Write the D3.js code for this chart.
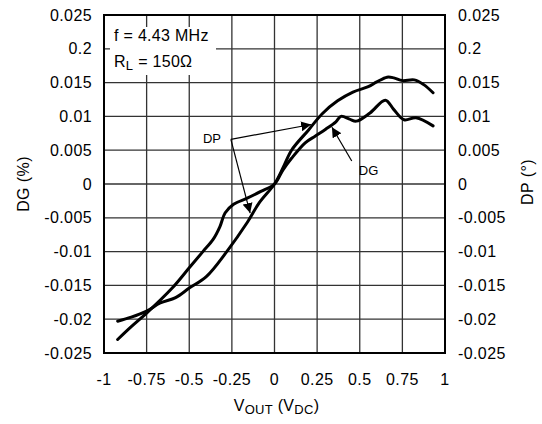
<!DOCTYPE html>
<html>
<head>
<meta charset="utf-8">
<script src="https://cdn.jsdelivr.net/npm/d3@7"></script>
<style>
  body { margin: 0; background: #fff; }
  text { font-family: "Liberation Sans", Arial, sans-serif; fill: #000; }
</style>
</head>
<body>
<svg id="chart" width="542" height="424"></svg>
<script>
// x ticks (V_OUT) and y ticks, labels as printed on the original
const xTicks = [-1, -0.75, -0.5, -0.25, 0, 0.25, 0.5, 0.75, 1];
const xTickLabels = ["-1", "-0.75", "-0.5", "-0.25", "0", "0.25", "0.5", "0.75", "1"];
const yTicks = [0.025, 0.02, 0.015, 0.01, 0.005, 0, -0.005, -0.01, -0.015, -0.02, -0.025];
const yTickLabels = ["0.025", "0.2", "0.015", "0.01", "0.005", "0", "-0.005", "-0.01", "-0.015", "-0.02", "-0.025"];

// DG curve (%)
const dgX = [-0.92, -0.84, -0.75, -0.6, -0.5, -0.42, -0.36, -0.32, -0.29, -0.24, -0.16, -0.08, 0,
  0.05, 0.1, 0.18, 0.24, 0.3, 0.36, 0.39, 0.44, 0.48, 0.56, 0.65, 0.7, 0.76, 0.83, 0.93];
const dgY = [-0.023, -0.0211, -0.0191, -0.0154, -0.0124, -0.0100, -0.0082, -0.0063, -0.0043, -0.0030, -0.0021, -0.0011, 0,
  0.0021, 0.0038, 0.0061, 0.0071, 0.0081, 0.0092, 0.0100, 0.0096, 0.0093, 0.0105, 0.0124, 0.0110, 0.0095, 0.0098, 0.0086];

// DP curve (deg)
const dpX = [-0.92, -0.84, -0.75, -0.67, -0.58, -0.5, -0.4, -0.28, -0.16, -0.09, 0,
  0.05, 0.1, 0.2, 0.28, 0.37, 0.46, 0.55, 0.6, 0.66, 0.7, 0.75, 0.82, 0.875, 0.93];
const dpY = [-0.0203, -0.0197, -0.0188, -0.0176, -0.0168, -0.0154, -0.0137, -0.0100, -0.0057, -0.0028, 0,
  0.0024, 0.0050, 0.0080, 0.0104, 0.0123, 0.0136, 0.0144, 0.0151, 0.0158, 0.0157, 0.0153, 0.0154, 0.0147, 0.0135];

// annotation points, in data units
const dpLabel = [-0.367, 0.0068];
const dpArrowFrom = [-0.256, 0.0066];
const dpArrowTips = [[0.215, 0.0088], [-0.143, -0.0043]];
const dgLabel = [0.552, 0.0021];
const dgArrowFrom = [0.453, 0.0034];
const dgArrowTip = [0.337, 0.0084];

const svg = d3.select("#chart");
const margin = { top: 15, right: 97, bottom: 71, left: 104 };
const width = 542 - margin.left - margin.right;
const height = 424 - margin.top - margin.bottom;

const x = d3.scaleLinear().domain([-1, 1]).range([margin.left, margin.left + width]);
const y = d3.scaleLinear().domain([-0.025, 0.025]).range([margin.top + height, margin.top]);

svg.append("defs").append("marker")
  .attr("id", "arrow")
  .attr("viewBox", "0 0 10 10")
  .attr("refX", 10).attr("refY", 5)
  .attr("markerWidth", 10).attr("markerHeight", 10)
  .attr("markerUnits", "userSpaceOnUse")
  .attr("orient", "auto")
  .append("path")
  .attr("d", "M0,0 L10,5 L0,10 Z")
  .attr("fill", "#000");

// grid
const grid = svg.append("g");
grid.selectAll("line.v")
  .data(xTicks)
  .join("line")
  .attr("x1", (d) => x(d)).attr("x2", (d) => x(d))
  .attr("y1", margin.top).attr("y2", margin.top + height)
  .attr("stroke", "#333").attr("stroke-width", 1.3);
grid.selectAll("line.h")
  .data(yTicks)
  .join("line")
  .attr("x1", margin.left).attr("x2", margin.left + width)
  .attr("y1", (d) => y(d)).attr("y2", (d) => y(d))
  .attr("stroke", "#333").attr("stroke-width", 1.3);

// frame
svg.append("rect")
  .attr("x", margin.left).attr("y", margin.top)
  .attr("width", width).attr("height", height)
  .attr("fill", "none").attr("stroke", "#000").attr("stroke-width", 2);

// tick labels
svg.append("g").selectAll("text")
  .data(xTicks)
  .join("text")
  .attr("x", (d) => x(d))
  .attr("y", margin.top + height + 32)
  .attr("text-anchor", "middle")
  .attr("font-size", 16)
  .attr("letter-spacing", 0.4)
  .text((d, i) => xTickLabels[i]);

svg.append("g").selectAll("text")
  .data(yTicks)
  .join("text")
  .attr("x", margin.left - 12)
  .attr("y", (d) => y(d) + 5.5)
  .attr("text-anchor", "end")
  .attr("font-size", 16)
  .attr("letter-spacing", 0.4)
  .text((d, i) => yTickLabels[i]);

svg.append("g").selectAll("text")
  .data(yTicks)
  .join("text")
  .attr("x", margin.left + width + 13)
  .attr("y", (d) => y(d) + 5.5)
  .attr("text-anchor", "start")
  .attr("font-size", 16)
  .attr("letter-spacing", 0.4)
  .text((d, i) => yTickLabels[i]);

// axis titles
const xTitle = svg.append("text")
  .attr("x", x(0) + 2)
  .attr("y", margin.top + height + 58)
  .attr("text-anchor", "middle")
  .attr("font-size", 16)
  .attr("letter-spacing", 0.3);
xTitle.append("tspan").text("V");
xTitle.append("tspan").attr("font-size", 13).attr("dy", 3).text("OUT");
xTitle.append("tspan").attr("dy", -3).text(" (V");
xTitle.append("tspan").attr("font-size", 13).attr("dy", 3).text("DC");
xTitle.append("tspan").attr("dy", -3).text(")");

svg.append("text")
  .attr("transform", "translate(29," + y(0) + ") rotate(-90)")
  .attr("text-anchor", "middle")
  .attr("font-size", 16)
  .attr("letter-spacing", 0.4)
  .text("DG (%)");

svg.append("text")
  .attr("transform", "translate(533," + (y(0) - 2) + ") rotate(-90)")
  .attr("text-anchor", "middle")
  .attr("font-size", 16)
  .attr("letter-spacing", 0.4)
  .text("DP (°)");

// condition box
svg.append("rect")
  .attr("x", margin.left + 6).attr("y", margin.top + 12)
  .attr("width", 106).attr("height", 48)
  .attr("fill", "#fff");
svg.append("text")
  .attr("x", margin.left + 10).attr("y", margin.top + 26)
  .attr("font-size", 16)
  .attr("letter-spacing", 0.3)
  .text("f = 4.43 MHz");
const rl = svg.append("text")
  .attr("x", margin.left + 10).attr("y", margin.top + 52)
  .attr("font-size", 16)
  .attr("letter-spacing", 0.3);
rl.append("tspan").text("R");
rl.append("tspan").attr("font-size", 13).attr("dy", 3).text("L");
rl.append("tspan").attr("dy", -3).text(" = 150Ω");

// curves
const line = d3.line()
  .x((d) => x(d[0]))
  .y((d) => y(d[1]))
  .curve(d3.curveCatmullRom);

svg.append("path")
  .datum(dgX.map((v, i) => [v, dgY[i]]))
  .attr("d", line)
  .attr("fill", "none").attr("stroke", "#000").attr("stroke-width", 3)
  .attr("stroke-linecap", "round").attr("stroke-linejoin", "round");

svg.append("path")
  .datum(dpX.map((v, i) => [v, dpY[i]]))
  .attr("d", line)
  .attr("fill", "none").attr("stroke", "#000").attr("stroke-width", 3)
  .attr("stroke-linecap", "round").attr("stroke-linejoin", "round");

// annotations
svg.append("g").selectAll("line")
  .data(dpArrowTips)
  .join("line")
  .attr("x1", x(dpArrowFrom[0])).attr("y1", y(dpArrowFrom[1]))
  .attr("x2", (d) => x(d[0])).attr("y2", (d) => y(d[1]))
  .attr("stroke", "#000").attr("stroke-width", 1.2)
  .attr("marker-end", "url(#arrow)");

svg.append("line")
  .attr("x1", x(dgArrowFrom[0])).attr("y1", y(dgArrowFrom[1]))
  .attr("x2", x(dgArrowTip[0])).attr("y2", y(dgArrowTip[1]))
  .attr("stroke", "#000").attr("stroke-width", 1.2)
  .attr("marker-end", "url(#arrow)");

svg.append("text")
  .attr("x", x(dpLabel[0])).attr("y", y(dpLabel[1]) + 5)
  .attr("text-anchor", "middle")
  .attr("font-family", "'Open Sans', 'Noto Sans', sans-serif")
  .attr("font-size", 13)
  .text("DP");

svg.append("text")
  .attr("x", x(dgLabel[0])).attr("y", y(dgLabel[1]) + 5)
  .attr("text-anchor", "middle")
  .attr("font-family", "'Open Sans', 'Noto Sans', sans-serif")
  .attr("font-size", 13)
  .text("DG");
</script>
</body>
</html>
